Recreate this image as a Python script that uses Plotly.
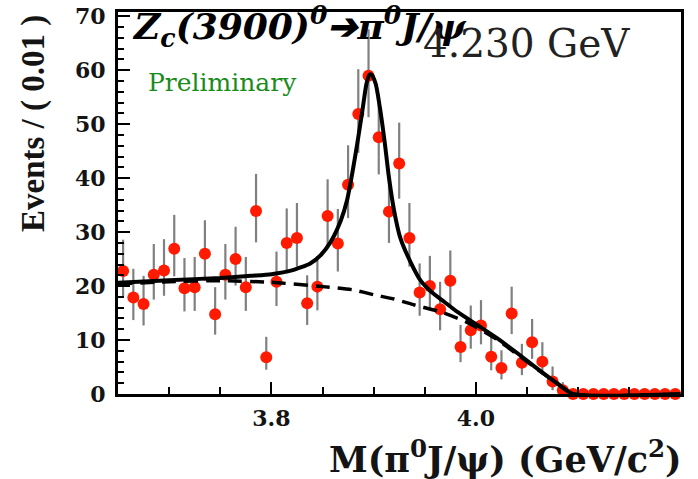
import plotly.graph_objects as go

# ---- data ----
mass_bins = [3.655, 3.665, 3.675, 3.685, 3.695, 3.705, 3.715, 3.725, 3.735, 3.745,
             3.755, 3.765, 3.775, 3.785, 3.795, 3.805, 3.815, 3.825, 3.835, 3.845,
             3.855, 3.865, 3.875, 3.885, 3.895, 3.905, 3.915, 3.925, 3.935, 3.945,
             3.955, 3.965, 3.975, 3.985, 3.995, 4.005, 4.015, 4.025, 4.035, 4.045,
             4.055, 4.065, 4.075, 4.085, 4.095, 4.105, 4.115, 4.125, 4.135, 4.145,
             4.155, 4.165, 4.175, 4.185, 4.195]
events = [22.8, 17.9, 16.7, 22.1, 22.9, 26.9, 19.6, 19.8, 26.0, 14.8,
          22.1, 25.0, 19.8, 33.9, 6.8, 20.8, 28.0, 28.9, 16.8, 19.9,
          33.0, 27.9, 38.8, 51.9, 59.0, 47.6, 33.8, 42.7, 28.9, 18.8,
          20.0, 15.7, 21.0, 8.7, 11.8, 12.7, 6.9, 4.8, 14.9, 5.8,
          9.6, 6.0, 2.3, 0.7, 0, 0, 0, 0, 0, 0,
          0, 0, 0, 0, 0]
err_up = [5.8, 5.3, 5.2, 5.7, 5.8, 6.3, 5.6, 5.6, 6.2, 5.0,
          5.7, 6.0, 5.6, 6.9, 3.8, 5.6, 6.4, 6.5, 5.2, 5.6,
          6.8, 6.4, 7.3, 8.3, 8.6, 8.0, 6.9, 7.6, 6.5, 5.4,
          5.6, 5.1, 5.6, 4.1, 4.6, 4.7, 3.8, 3.3, 5.0, 3.5,
          4.3, 3.6, 2.8, 1.5, 0, 0, 0, 0, 0, 0,
          0, 0, 0, 0, 0]
err_dn = [4.7, 4.2, 4.0, 4.6, 4.7, 5.1, 4.3, 4.4, 5.0, 3.8,
          4.6, 4.9, 4.4, 5.8, 2.3, 4.5, 5.2, 5.3, 4.0, 4.4,
          5.7, 5.2, 6.2, 7.2, 7.7, 6.9, 5.8, 6.5, 5.3, 4.3,
          4.4, 3.9, 4.5, 2.8, 3.4, 3.5, 2.5, 2.1, 3.8, 2.3,
          3.1, 2.4, 1.6, 0.7, 0, 0, 0, 0, 0, 0,
          0, 0, 0, 0, 0]

fit_mass = [3.65, 3.70, 3.75, 3.78, 3.80, 3.82, 3.838, 3.848, 3.858, 3.868,
            3.874, 3.879, 3.884, 3.889, 3.893, 3.896, 3.898, 3.902, 3.907, 3.911,
            3.915, 3.920, 3.926, 3.936, 3.946, 3.956, 3.969, 3.982, 4.002, 4.021,
            4.041, 4.060, 4.080, 4.095, 4.20]
fit_total = [20.6, 21.1, 21.5, 21.9, 22.2, 22.9, 24.2, 25.7, 28.2, 32.2,
             35.9, 40.8, 46.4, 52.5, 57.5, 59.2, 59.2, 57.5, 52.0, 46.4,
             40.1, 34.0, 29.0, 24.5, 21.0, 19.0, 17.1, 15.2, 12.7, 10.3,
             7.5, 4.7, 1.9, 0.0, 0.0]

bkg_mass = [3.65, 3.70, 3.75, 3.80, 3.85, 3.88, 3.90, 3.92, 3.94, 3.966,
            3.99, 4.02, 4.04, 4.06, 4.08, 4.095, 4.20]
bkg_level = [20.4, 20.8, 21.0, 20.7, 19.9, 19.3, 18.4, 17.6, 16.5, 15.2,
             13.4, 10.2, 7.4, 4.6, 1.9, 0.0, 0.0]

x_ticks = [3.8, 4.0, 4.2]
x_tick_labels = ["3.8", "4.0", "4.2"]
y_ticks = [0, 10, 20, 30, 40, 50, 60, 70]

# ---- geometry (page pixels) ----
W, H = 698, 479
L, T = 118, 12
R, B = 698 - 681, 479 - 394
PW, PH = W - L - R, H - T - B


def px(x):
    return (x - L) / PW


def py(y):
    return (H - B - y) / PH


fig = go.Figure()

fig.add_trace(go.Scatter(
    x=mass_bins, y=events, mode="markers",
    marker=dict(color="#ff1a00", size=12, line=dict(width=0)),
    error_y=dict(type="data", symmetric=False, array=err_up, arrayminus=err_dn,
                 color="#808080", thickness=2.2, width=0),
    cliponaxis=False, showlegend=False, hoverinfo="skip"))

fig.add_trace(go.Scatter(
    x=bkg_mass, y=bkg_level, mode="lines",
    line=dict(color="black", width=3.5, dash="14px,8px", shape="spline", smoothing=0.6),
    cliponaxis=False, showlegend=False, hoverinfo="skip"))

fig.add_trace(go.Scatter(
    x=fit_mass, y=fit_total, mode="lines",
    line=dict(color="black", width=4, shape="spline", smoothing=0.6),
    cliponaxis=False, showlegend=False, hoverinfo="skip"))

tickfont = dict(family="DejaVu Serif", size=22, color="#141414", weight="bold")

fig.update_xaxes(
    range=[3.65, 4.2006], tickvals=x_ticks, ticktext=x_tick_labels,
    ticks="inside", ticklen=12, tickwidth=2, tickcolor="black",
    minor=dict(dtick=0.05, tick0=3.8, ticks="inside", ticklen=7, tickwidth=2, tickcolor="black"),
    showline=True, linewidth=3, linecolor="black", mirror=True, automargin=False,
    showgrid=False, zeroline=False, tickfont=tickfont, ticklabelstandoff=3)

fig.update_yaxes(
    range=[0, 70.8], tickvals=y_ticks,
    ticks="inside", ticklen=12, tickwidth=2, tickcolor="black",
    minor=dict(dtick=2, tick0=0, ticks="inside", ticklen=6, tickwidth=2, tickcolor="black"),
    showline=True, linewidth=3, linecolor="black", mirror=True, automargin=False,
    showgrid=False, zeroline=False, tickfont=tickfont, ticklabelstandoff=5)

annotations = [
    dict(text="<b><i>Z<sub>c</sub>(3900)<sup>0</sup>\u2794\u03c0<sup>0</sup>J/\u03c8</i></b>",
         x=px(130), y=py(27), xanchor="left", yanchor="middle",
         font=dict(family="DejaVu Serif", size=36, color="black")),
    dict(text="4.230 GeV", x=px(421), y=py(44), xanchor="left", yanchor="middle",
         font=dict(family="DejaVu Serif", size=39, color="#222222")),
    dict(text="Preliminary", x=px(146), y=py(82), xanchor="left", yanchor="middle",
         font=dict(family="DejaVu Serif", size=25, color="#1a8c1a")),
    dict(text="<b>Events / ( 0.01 )</b>", x=px(34), y=py(124), xanchor="center", yanchor="middle",
         textangle=-90, font=dict(family="Liberation Serif", size=33, color="#141414")),
    dict(text="<b>M(\u03c0<sup>0</sup>J/\u03c8) (GeV/c<sup>2</sup>)</b>", x=px(684), y=py(457),
         xanchor="right", yanchor="middle",
         font=dict(family="DejaVu Serif", size=35, color="#141414")),
]
for a in annotations:
    a.update(xref="paper", yref="paper", showarrow=False)

fig.update_layout(
    width=W, height=H, margin=dict(l=L, r=R, t=T, b=B),
    plot_bgcolor="white", paper_bgcolor="white",
    annotations=annotations, showlegend=False)

fig.write_html("out.html", config={"displayModeBar": False},
               post_script="document.body.style.margin='0px';document.body.style.overflow='hidden';")
